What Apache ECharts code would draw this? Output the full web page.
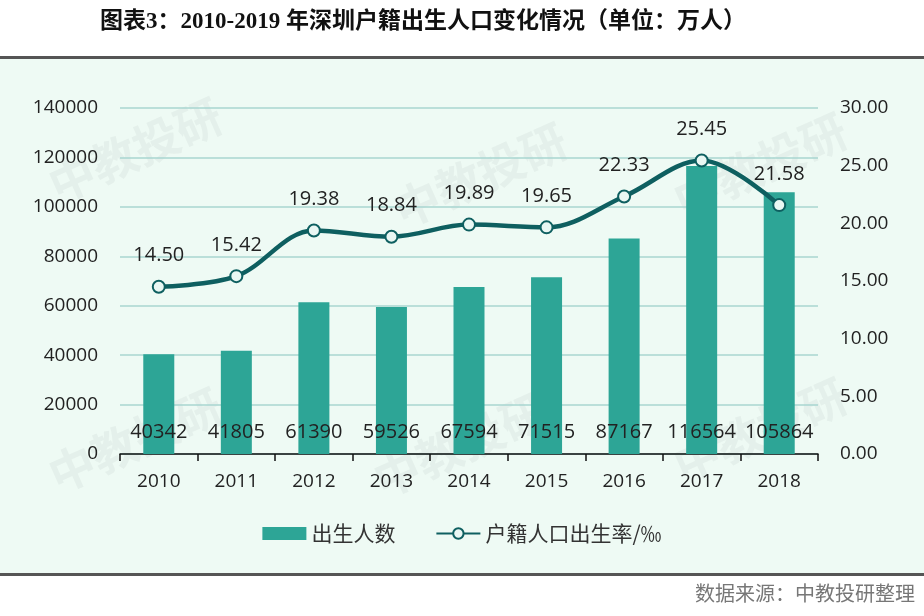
<!DOCTYPE html>
<html><head><meta charset="utf-8">
<script src="https://cdn.jsdelivr.net/npm/echarts@6/dist/echarts.min.js"></script>
<style>html,body{margin:0;padding:0;background:#fff}#c{width:924px;height:616px}</style>
</head><body><div id="c"></div>
<script>
const years = ['2010','2011','2012','2013','2014','2015','2016','2017','2018'];
const births = [40342,41805,61390,59526,67594,71515,87167,116564,105864];
const rates = [14.50,15.42,19.38,18.84,19.89,19.65,22.33,25.45,21.58];
const chart = echarts.init(document.getElementById('c'), null, {renderer:'canvas'});
const font = 'Open Sans, Lato, Noto Sans CJK SC, sans-serif';
const wm = [];
[[135,150],[480,175],[760,165],[135,440],[460,445],[760,430]].forEach(p=>{
  wm.push({type:'text', x:p[0], y:p[1], rotation:0.42, z:-1,
    style:{text:'中教投研', font:'bold 46px "Noto Sans CJK SC"', fill:'rgba(150,160,160,0.10)', align:'center', verticalAlign:'middle'}});
});
chart.setOption({
  backgroundColor:'#fff',
  title:{text:'图表3：2010-2019 年深圳户籍出生人口变化情况（单位：万人）', left:95, top:6,
    textStyle:{fontFamily:'Liberation Serif, Noto Sans CJK SC', fontWeight:'bold', fontSize:23, color:'#111'}},
  graphic:[
    {type:'rect', shape:{x:0,y:58,width:924,height:516}, style:{fill:'#eefaf4'}, z:-10, silent:true},
    {type:'rect', shape:{x:0,y:56,width:924,height:3}, style:{fill:'#555'}, z:-9},
    {type:'rect', shape:{x:0,y:573,width:924,height:3}, style:{fill:'#555'}, z:-9},
    {type:'text', right:9, top:583, style:{text:'数据来源：中教投研整理', font:'20px "Noto Sans CJK SC"', fill:'#777'}},
    ...wm
  ],
  legend:{left:'center', top:518, itemGap:40, itemWidth:44, itemHeight:13,
    textStyle:{fontSize:21, color:'#333', fontFamily:'Noto Sans CJK SC'},
    data:[{name:'出生人数', icon:'rect'},{name:'户籍人口出生率/‰'}]},
  grid:{left:120, right:106, top:108, bottom:162},
  xAxis:{type:'category', data:years,
    axisLine:{lineStyle:{color:'#111', width:1.5}},
    axisTick:{show:true, length:7, lineStyle:{color:'#111', width:1.5}},
    axisLabel:{fontSize:19, color:'#222', fontFamily:font, margin:18}},
  yAxis:[
    {type:'value', min:0, max:140000, interval:20000,
      axisLabel:{fontSize:19, color:'#222', fontFamily:font, margin:22, formatter:v=>String(v)},
      splitLine:{lineStyle:{color:'#a9d6d0', width:1.5}}, axisLine:{show:false}, axisTick:{show:false}},
    {type:'value', min:0, max:30, interval:5,
      axisLabel:{fontSize:19, color:'#222', fontFamily:font, margin:22, formatter:v=>v.toFixed(2)},
      splitLine:{show:false}, axisLine:{show:false}, axisTick:{show:false}}
  ],
  series:[
    {name:'出生人数', type:'bar', data:births, barWidth:31, itemStyle:{color:'#2da596'},
      label:{show:true, position:'insideBottom', distance:12, fontSize:20, color:'#222', fontFamily:font}},
    {name:'户籍人口出生率/‰', type:'line', yAxisIndex:1, data:rates, smooth:0.35,
      lineStyle:{color:'#0e5f60', width:4.5}, symbol:'circle', symbolSize:12,
      itemStyle:{color:'#e9f7f3', borderColor:'#0e5f60', borderWidth:2},
      label:{show:true, position:'top', distance:14, fontSize:20, color:'#222', fontFamily:font, formatter:p=>p.value.toFixed(2)}}
  ]
});
</script></body></html>
